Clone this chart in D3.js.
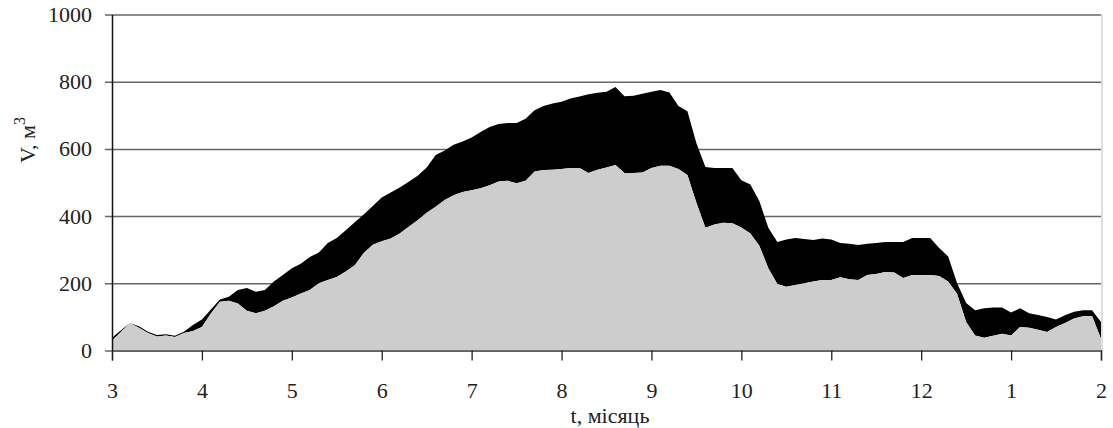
<!DOCTYPE html>
<html>
<head>
<meta charset="utf-8">
<script src="https://cdn.jsdelivr.net/npm/d3@7"></script>
<style>
  body { margin: 0; background: #fff; }
  svg text { font-family: "Liberation Serif", "DejaVu Serif", serif; fill: #222; }
</style>
</head>
<body>
<svg id="chart" width="1113" height="428"></svg>
<script>
// month labels along the bottom (t = 0..11, one month apart)
const monthLabels = ["3", "4", "5", "6", "7", "8", "9", "10", "11", "12", "1", "2"];
const yTicks = [0, 200, 400, 600, 800, 1000];

// samples every 0.1 month
const step = 0.1;
const upperV = [
  38, 60, 82, 72, 56, 46, 48, 44, 56, 76,
  92, 122, 152, 160, 180, 186, 175, 180, 205, 225,
  245, 258, 278, 292, 320, 335, 358, 382, 405, 430,
  455, 470, 485, 502, 520, 545, 582, 595, 612, 622,
  634, 650, 665, 674, 677, 677, 690, 715, 728, 735,
  740, 750, 756, 763, 767, 770, 784, 757, 758, 764,
  770, 775, 768, 728, 712, 617, 546, 543, 543, 543,
  507, 494, 445, 365, 323, 330, 335, 332, 329, 333,
  330, 320, 318, 314, 318, 320, 323, 323, 323, 335,
  335, 335, 305, 280, 200, 141, 120, 126, 128, 128,
  113, 126, 111, 106, 100, 92, 105, 115, 120, 120,
  85
];
const lowerV = [
  30, 55, 82, 68, 52, 42, 45, 40, 52, 58,
  70, 110, 145, 148, 140, 118, 111, 118, 132, 148,
  158, 170, 180, 200, 210, 219, 235, 254, 290, 315,
  325, 333, 348, 368, 388, 410, 428, 448, 462, 472,
  477, 483, 492, 503, 505, 498, 505, 533, 537, 538,
  540, 543, 543, 528, 538, 545, 552, 528, 528, 530,
  543, 550, 550, 540, 522, 440, 365, 375, 380, 379,
  366, 348, 312, 245, 198, 190, 195, 200, 205, 210,
  210, 218, 212, 210, 225, 228, 234, 232, 216, 225,
  225, 225, 222, 205, 168, 85, 45, 38, 44, 50,
  45, 70, 68, 62, 55, 70, 82, 95, 102, 103,
  35
];

const svg = d3.select("#chart");
const plotL = 112, plotR = 1101, plotT = 14.5, plotB = 350.5;

const x = d3.scaleLinear().domain([0, 11]).range([plotL, plotR]);
const y = d3.scaleLinear().domain([0, 1000]).range([plotB, plotT]);

const rows = upperV.map((u, i) => ({ t: i * step, hi: u, lo: lowerV[i] }));

// gridlines with little ticks to the left of the axis
svg.append("g")
  .attr("transform", `translate(${plotL},0)`)
  .call(d3.axisLeft(y).tickValues(yTicks).tickSize(-(plotR - plotL)).tickFormat(""))
  .call(g => g.select(".domain").remove())
  .call(g => g.selectAll("line").attr("stroke", "#666").attr("stroke-width", 1.5).attr("x1", -7));

// faint right border
svg.append("line")
  .attr("x1", plotR + 1).attr("x2", plotR + 1)
  .attr("y1", y(1000)).attr("y2", y(0))
  .attr("stroke", "#c8c8c8").attr("stroke-width", 1.2);

// black band between upper and lower
svg.append("path")
  .datum(rows)
  .attr("fill", "#000")
  .attr("d", d3.area().x(d => x(d.t)).y0(d => y(d.lo)).y1(d => y(d.hi)));

// gray area under lower
svg.append("path")
  .datum(rows)
  .attr("fill", "#cdcdcd")
  .attr("d", d3.area().x(d => x(d.t)).y0(y(0)).y1(d => y(d.lo)));

// x axis
const xAxis = svg.append("g")
  .attr("transform", `translate(0,${plotB})`)
  .call(d3.axisBottom(x).tickValues(d3.range(12)).tickSize(10).tickFormat(i => monthLabels[i]));
xAxis.select(".domain").attr("stroke", "#555").attr("stroke-width", 1.5);
xAxis.selectAll(".tick line").attr("stroke", "#222").attr("stroke-width", 1.3);
xAxis.selectAll(".tick text")
  .attr("y", 47).attr("dy", 0)
  .style("font-size", "22px").style("font-family", "Liberation Serif");

// y axis labels
const yAxis = svg.append("g")
  .attr("transform", `translate(${plotL},0)`)
  .call(d3.axisLeft(y).tickValues(yTicks).tickSize(0).tickPadding(20).tickFormat(d3.format("d")));
yAxis.select(".domain").attr("stroke", "#111").attr("stroke-width", 1.5);
yAxis.selectAll(".tick text")
  .style("font-size", "22px").style("font-family", "Liberation Serif");

// axis titles
svg.append("text")
  .attr("x", 610).attr("y", 423)
  .attr("text-anchor", "middle")
  .style("font-size", "22px")
  .text("t, місяць");

const yt = svg.append("text")
  .attr("transform", "translate(35,140) rotate(-90)")
  .attr("text-anchor", "middle")
  .style("font-size", "22px");
yt.append("tspan").text("V, м");
yt.append("tspan").attr("dy", -10).style("font-size", "16px").text("3");
</script>
</body>
</html>
